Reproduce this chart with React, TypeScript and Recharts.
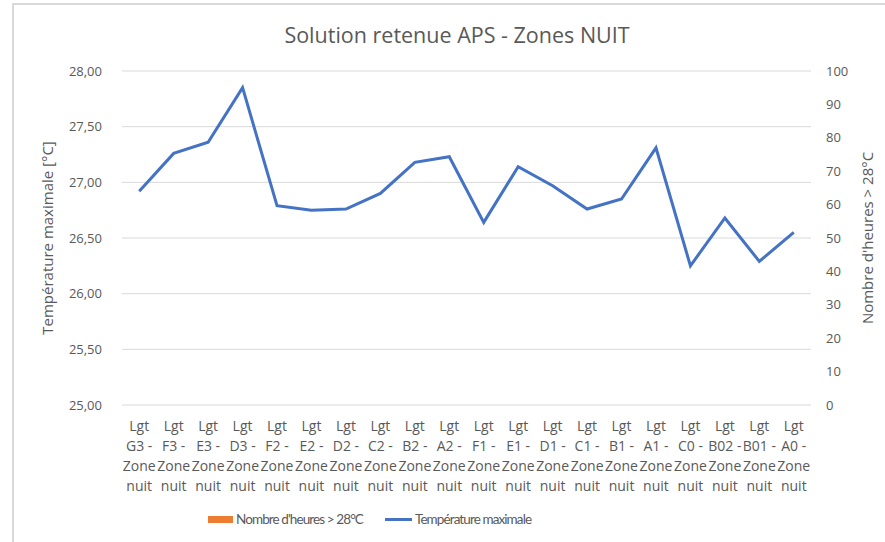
import React from "react";
import {
  ComposedChart,
  Bar,
  Line,
  XAxis,
  YAxis,
  CartesianGrid,
} from "recharts";

const zones = [
  "G3", "F3", "E3", "D3", "F2", "E2", "D2", "C2", "B2", "A2",
  "F1", "E1", "D1", "C1", "B1", "A1", "C0", "B02", "B01", "A0",
];

// Température maximale [°C]
const tempMax = [
  26.92, 27.26, 27.36, 27.85, 26.79, 26.75, 26.76, 26.9, 27.18, 27.23,
  26.64, 27.14, 26.97, 26.76, 26.85, 27.31, 26.25, 26.68, 26.29, 26.55,
];

// Nombre d'heures > 28°C (aucune heure dépassée)
const hoursOver28 = [
  0, 0, 0, 0, 0, 0, 0, 0, 0, 0,
  0, 0, 0, 0, 0, 0, 0, 0, 0, 0,
];

const tempTicks = [25, 25.5, 26, 26.5, 27, 27.5, 28];
const hourTicks = [0, 10, 20, 30, 40, 50, 60, 70, 80, 90, 100];

const data = zones.map((code, i) => ({
  code,
  temp: tempMax[i],
  hours: hoursOver28[i],
}));

const TEXT = "#595959";
const GRID = "#d9d9d9";
const FONT = "'Open Sans', sans-serif";

const fmtTemp = (v: number) => v.toFixed(2).replace(".", ",");

function ZoneTick({ x, y, payload }: any) {
  const lines = ["Lgt", `${payload.value} -`, "Zone", "nuit"];
  return (
    <text x={x} y={y} textAnchor="middle" fill={TEXT} fontSize={14} fontFamily={FONT}>
      {lines.map((l, i) => (
        <tspan key={i} x={x} dy={i === 0 ? 26 : 20}>
          {l}
        </tspan>
      ))}
    </text>
  );
}

function axisTitle(text: string, dx: number) {
  return (props: any) => {
    const vb = props.viewBox || {};
    const cx = vb.x + dx;
    const cy = vb.y + vb.height / 2;
    return (
      <text
        x={cx}
        y={cy}
        transform={`rotate(-90, ${cx}, ${cy})`}
        textAnchor="middle"
        dominantBaseline="central"
        fill={TEXT}
        fontSize={15}
        fontFamily={FONT}
      >
        {text}
      </text>
    );
  };
}

export default function App() {
  return (
    <div
      style={{
        position: "absolute",
        left: 0,
        top: 0,
        width: 885,
        height: 542,
        background: "#fff",
        overflow: "hidden",
        fontFamily: FONT,
      }}
    >
      <div
        style={{
          position: "absolute",
          left: 12,
          top: 3,
          right: -4,
          bottom: -4,
          borderLeft: `2px solid ${GRID}`,
          borderTop: `2px solid ${GRID}`,
        }}
      />
      <div
        style={{
          position: "absolute",
          top: 20,
          left: 0,
          width: 914,
          textAlign: "center",
          fontSize: 21.5,
          color: TEXT,
        }}
      >
        Solution retenue APS - Zones NUIT
      </div>
      <div style={{ position: "absolute", left: 0, top: 0 }}>
        <ComposedChart
          width={885}
          height={542}
          data={data}
          margin={{ top: 71, right: 0, bottom: 0, left: 0 }}
        >
          <CartesianGrid yAxisId="left" vertical={false} stroke={GRID} strokeWidth={1} />
          <XAxis
            dataKey="code"
            interval={0}
            height={137}
            axisLine={false}
            tickLine={false}
            tickSize={0}
            tickMargin={0}
            tick={<ZoneTick />}
          />
          <YAxis
            yAxisId="left"
            width={122}
            domain={[25, 28]}
            ticks={tempTicks}
            tickFormatter={fmtTemp}
            axisLine={false}
            tickLine={false}
            tickSize={0}
            tickMargin={20}
            tick={{ fill: TEXT, fontSize: 13, fontFamily: FONT }}
            label={{ content: axisTitle("Température maximale [°C]", 47) }}
          />
          <YAxis
            yAxisId="right"
            orientation="right"
            width={74}
            domain={[0, 100]}
            ticks={hourTicks}
            axisLine={false}
            tickLine={false}
            tickSize={0}
            tickMargin={15}
            tick={{ fill: TEXT, fontSize: 13, fontFamily: FONT, textAnchor: "start" }}
            label={{ content: axisTitle("Nombre d'heures > 28°C", 56) }}
          />
          <Bar yAxisId="right" dataKey="hours" fill="#ED7D31" isAnimationActive={false} />
          <Line
            yAxisId="left"
            dataKey="temp"
            stroke="#4472C4"
            strokeWidth={3}
            dot={false}
            activeDot={false}
            isAnimationActive={false}
          />
        </ComposedChart>
      </div>
      <div
        style={{
          position: "absolute",
          top: 511,
          left: 208,
          display: "flex",
          alignItems: "center",
          fontSize: 13.5,
          letterSpacing: -0.9,
          color: TEXT,
          fontFamily: "Lato, sans-serif",
          whiteSpace: "nowrap",
        }}
      >
        <span style={{ display: "inline-block", width: 25, height: 7, background: "#ED7D31", marginRight: 3 }} />
        <span>Nombre d'heures &gt; 28°C</span>
        <span style={{ display: "inline-block", width: 27, height: 3, background: "#4472C4", marginLeft: 22, marginRight: 3 }} />
        <span>Température maximale</span>
      </div>
    </div>
  );
}
